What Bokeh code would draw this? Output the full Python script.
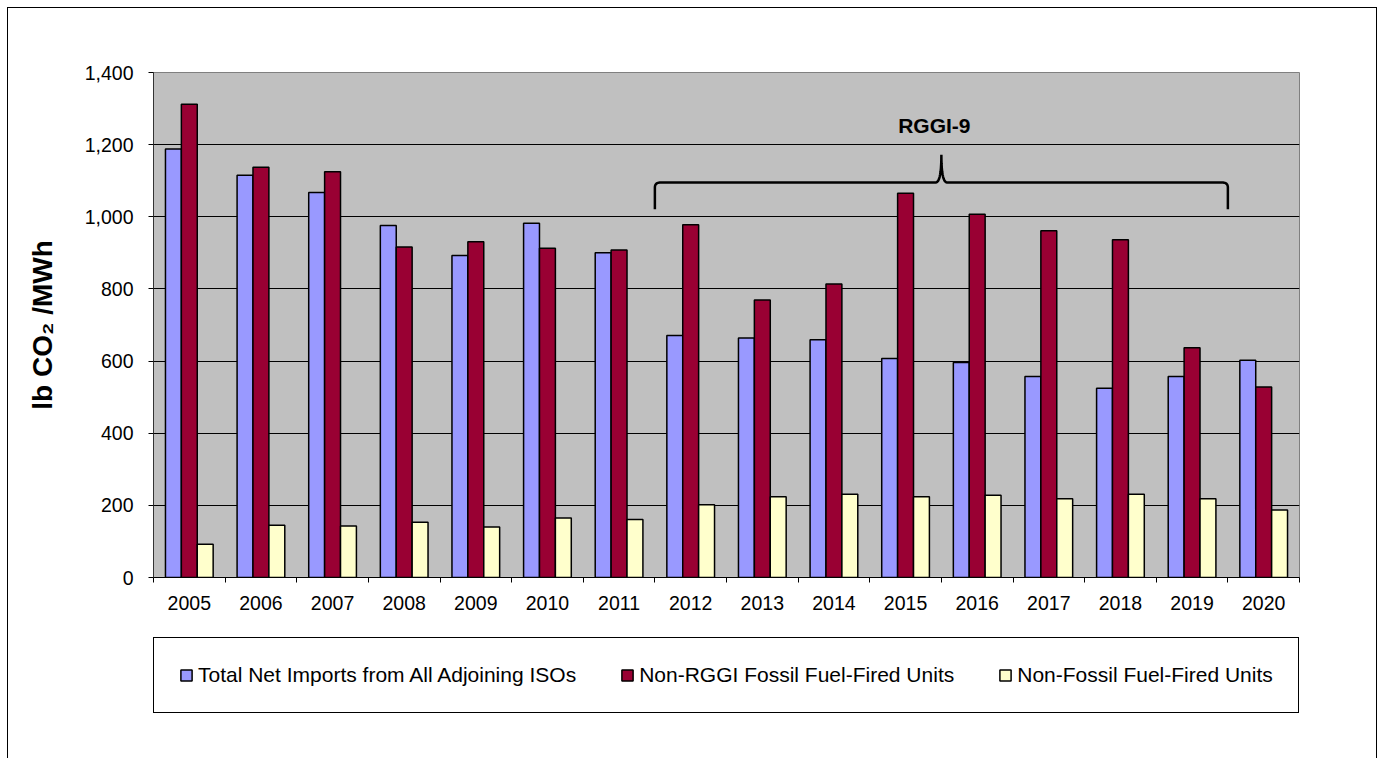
import numpy as np
from bokeh.plotting import figure
from bokeh.layouts import column
from bokeh.models import (FixedTicker, NumeralTickFormatter, Legend, LegendItem, Range1d,
                          ColumnDataSource)
from bokeh.core.properties import value
from bokeh.embed import file_html
from bokeh.resources import INLINE

# ---------------- data ----------------
years = ["2005", "2006", "2007", "2008", "2009", "2010", "2011", "2012",
         "2013", "2014", "2015", "2016", "2017", "2018", "2019", "2020"]
net_imports = [1188, 1115, 1067, 976, 893, 982, 900, 671,
               664, 659, 607, 596, 557, 525, 557, 602]
non_rggi_fossil = [1312, 1137, 1125, 916, 931, 913, 908, 978,
                   769, 814, 1065, 1007, 961, 936, 637, 528]
non_fossil = [92, 145, 143, 153, 140, 165, 161, 202,
              224, 231, 224, 228, 218, 231, 218, 187]
series_names = ["Total Net Imports from All Adjoining ISOs",
                "Non-RGGI Fossil Fuel-Fired Units",
                "Non-Fossil Fuel-Fired Units"]
series_colors = ["#9999FF", "#990033", "#FFFFCC"]
y_ticks = [0, 200, 400, 600, 800, 1000, 1200, 1400]
y_label = "lb CO\u2082 /MWh"
brace_first, brace_last = "2012", "2019"
brace_label = "RGGI-9"
brace_levels = [1021, 1095, 1172]   # end of arms, bar, tip
brace_label_y = 1253

FONT = "Liberation Sans"
W, H_MAIN, H_LEG = 1368, 615, 135

n = len(years)
idx = np.arange(n)
centers = idx + 0.5
bar_w = 0.222
series = [net_imports, non_rggi_fossil, non_fossil]

p = figure(width=W, height=H_MAIN, x_range=Range1d(0, n), y_range=Range1d(0, 1400),
           output_backend="svg", toolbar_location=None,
           min_border_left=145, min_border_right=77, min_border_top=64, min_border_bottom=46,
           background_fill_color="#C0C0C0", border_fill_color="white",
           outline_line_color="#808080", outline_line_width=1)

sources = []
for k, (vals, col) in enumerate(zip(series, series_colors)):
    src = ColumnDataSource(dict(x=centers + (k - 1) * bar_w, top=vals))
    sources.append(src)
    p.vbar(x="x", top="top", bottom=0, width=bar_w, source=src,
           fill_color=col, line_color="black", line_width=1.5)

# ---------------- brace ----------------
x0 = years.index(brace_first)
x1 = years.index(brace_last) + 1
xm = (x0 + x1) / 2
y_end, y_bar, y_tip = brace_levels
rx, ry, cx = 0.08, 14, 0.08


def qbez(p0, p1, p2, m=12):
    t = np.linspace(0, 1, m)[:, None]
    a, b, c = map(np.array, (p0, p1, p2))
    return (1 - t) ** 2 * a + 2 * (1 - t) * t * b + t ** 2 * c


pts = [np.array([[x0, y_end]])]
pts.append(qbez((x0, y_bar - ry), (x0, y_bar), (x0 + rx, y_bar)))
pts.append(qbez((xm - cx, y_bar), (xm, y_bar), (xm, y_tip)))
pts.append(qbez((xm, y_tip), (xm, y_bar), (xm + cx, y_bar)))
pts.append(qbez((x1 - rx, y_bar), (x1, y_bar), (x1, y_bar - ry)))
pts.append(np.array([[x1, y_end]]))
path = np.vstack(pts)
p.line(path[:, 0], path[:, 1], line_color="black", line_width=2.5)

p.text(x=[xm], y=[brace_label_y], text=[brace_label], text_font=value(FONT),
       text_font_style="bold", text_font_size="21px", text_align="center",
       text_baseline="middle", x_offset=-7, text_color="black")

# ---------------- axes ----------------
p.xaxis.ticker = FixedTicker(ticks=list(centers), minor_ticks=list(range(n + 1)))
p.xaxis.major_label_overrides = {float(c): y for c, y in zip(centers, years)}
p.xaxis.major_tick_line_color = None
p.xaxis.major_tick_out = 5
p.xaxis.major_tick_in = 0
p.xaxis.minor_tick_line_color = "black"
p.xaxis.minor_tick_out = 5
p.xaxis.minor_tick_in = 0
p.xaxis.axis_line_color = "black"
p.xaxis.major_label_standoff = 13

p.yaxis.ticker = FixedTicker(ticks=y_ticks, minor_ticks=[])
p.yaxis.formatter = NumeralTickFormatter(format="0,0")
p.yaxis.major_tick_out = 5
p.yaxis.major_tick_in = 0
p.yaxis.major_tick_line_color = "black"
p.yaxis.axis_line_color = "#333333"
p.yaxis.major_label_standoff = 15
p.yaxis.axis_label = y_label
p.yaxis.axis_label_text_font = FONT
p.yaxis.axis_label_text_font_style = "bold"
p.yaxis.axis_label_text_font_size = "28px"
p.yaxis.axis_label_standoff = 24
p.yaxis.axis_label_text_color = "black"

for ax in (p.xaxis, p.yaxis):
    ax.major_label_text_font = FONT
    ax.major_label_text_font_size = "19.5px"
    ax.major_label_text_color = "black"

p.xgrid.grid_line_color = None
p.ygrid.grid_line_color = "black"
p.ygrid.grid_line_width = 1

# ---------------- legend (own strip below the chart) ----------------
pl = figure(width=W, height=H_LEG, x_range=Range1d(0, n), y_range=Range1d(0, 1400),
            output_backend="svg", toolbar_location=None,
            x_axis_location=None, y_axis_location=None, min_border=0,
            background_fill_color="white", border_fill_color="white", outline_line_color=None)
pl.grid.visible = False
leg_renderers = []
for src, col in zip(sources, series_colors):
    leg_renderers.append(pl.vbar(x="x", top="top", bottom=0, width=bar_w, source=src,
                                 fill_color=col, line_color="black", line_width=1.5,
                                 visible=False))

legend = Legend(items=[LegendItem(label=nm, renderers=[r]) for nm, r in zip(series_names, leg_renderers)],
                orientation="horizontal", location=(0, 45),
                padding=25, spacing=44, label_standoff=5, glyph_width=14, glyph_height=14,
                label_text_font=FONT, label_text_font_size="21px", label_text_color="black",
                border_line_color="black", border_line_width=1, border_line_alpha=1,
                background_fill_color="white", background_fill_alpha=1, margin=0,
                inactive_fill_alpha=0)
pl.add_layout(legend, "center")

layout = column(p, pl, spacing=0,
                styles={"margin-left": "7px", "margin-top": "7px",
                        "border-top": "1px solid black", "border-left": "1px solid black",
                        "border-right": "1px solid black"})

open("out.html", "w").write(file_html(layout, INLINE))
